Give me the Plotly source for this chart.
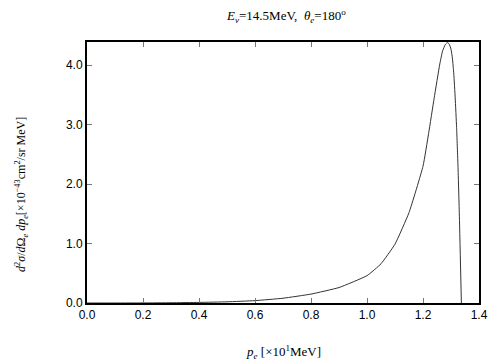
import plotly.graph_objects as go

pe = [0.0, 0.1, 0.2, 0.3, 0.4, 0.5, 0.6, 0.7, 0.8, 0.9, 1.0, 1.05, 1.1, 1.15,
      1.2, 1.22, 1.24, 1.26, 1.27, 1.28, 1.287, 1.293, 1.30, 1.305, 1.31, 1.315,
      1.32, 1.325, 1.33, 1.337]
xsec = [0.0, 0.0, 0.001, 0.004, 0.01, 0.02, 0.04, 0.08, 0.15, 0.26, 0.46, 0.66, 0.99, 1.52,
        2.3, 2.85, 3.45, 4.02, 4.24, 4.35, 4.38, 4.36, 4.27, 4.12, 3.85, 3.45,
        2.95, 2.3, 1.45, 0.0]

x_ticks = [0.0, 0.2, 0.4, 0.6, 0.8, 1.0, 1.2, 1.4]
x_labels = ["0.0", "0.2", "0.4", "0.6", "0.8", "1.0", "1.2", "1.4"]
y_ticks = [0.0, 1.0, 2.0, 3.0, 4.0]
y_labels = ["0.0", "1.0", "2.0", "3.0", "4.0"]

fig = go.Figure()
fig.add_trace(go.Scatter(x=pe, y=xsec, mode="lines",
                         line=dict(color="#333333", width=1, shape="spline", smoothing=0.4),
                         showlegend=False))

serif = "Liberation Serif, Times New Roman, serif"
sans = "Liberation Sans, Arial, Helvetica, sans-serif"

axis_common = dict(showline=True, linecolor="black", linewidth=2, mirror="ticks",
                   ticks="inside", ticklen=5, tickcolor="#777777", tickwidth=1,
                   showgrid=False, zeroline=False,
                   tickfont=dict(family=sans, size=12, color="black"))

# page body has an 8px default margin; compensate in the figure margins
fig.update_layout(
    width=504, height=360,
    margin=dict(l=79, r=33, t=34, b=65),
    plot_bgcolor="white", paper_bgcolor="white",
    xaxis=dict(range=[0, 1.4], tickvals=x_ticks, ticktext=x_labels, **axis_common),
    yaxis=dict(range=[0, 4.39], tickvals=y_ticks, ticktext=y_labels, **axis_common),
)

fig.add_annotation(text="<i>E<sub>ν</sub></i>=14.5MeV,  <i>θ<sub>e</sub></i>=180<sup>o</sup>",
                   xref="paper", yref="paper", x=0.5, y=1.0, xshift=3, yshift=26,
                   xanchor="center", yanchor="middle",
                   showarrow=False, font=dict(family=serif, size=13, color="black"))
fig.add_annotation(text="<i>p<sub>e</sub></i> [×10<sup>1</sup>MeV]",
                   xref="paper", yref="paper", x=0.5, y=0, yshift=-49,
                   xanchor="center", yanchor="middle",
                   showarrow=False, font=dict(family=serif, size=13, color="black"))
fig.add_annotation(text="<i>d</i><sup>2</sup><i>σ</i>/<i>d</i>Ω<sub><i>e</i></sub> <i>dp<sub>e</sub></i>[×10<sup>−43</sup>cm<sup>2</sup>/sr MeV]",
                   xref="paper", yref="paper", x=0, y=0.414, xshift=-65, textangle=-90,
                   xanchor="center", yanchor="middle",
                   showarrow=False, font=dict(family=serif, size=12, color="black"))

fig.write_html("out.html")
